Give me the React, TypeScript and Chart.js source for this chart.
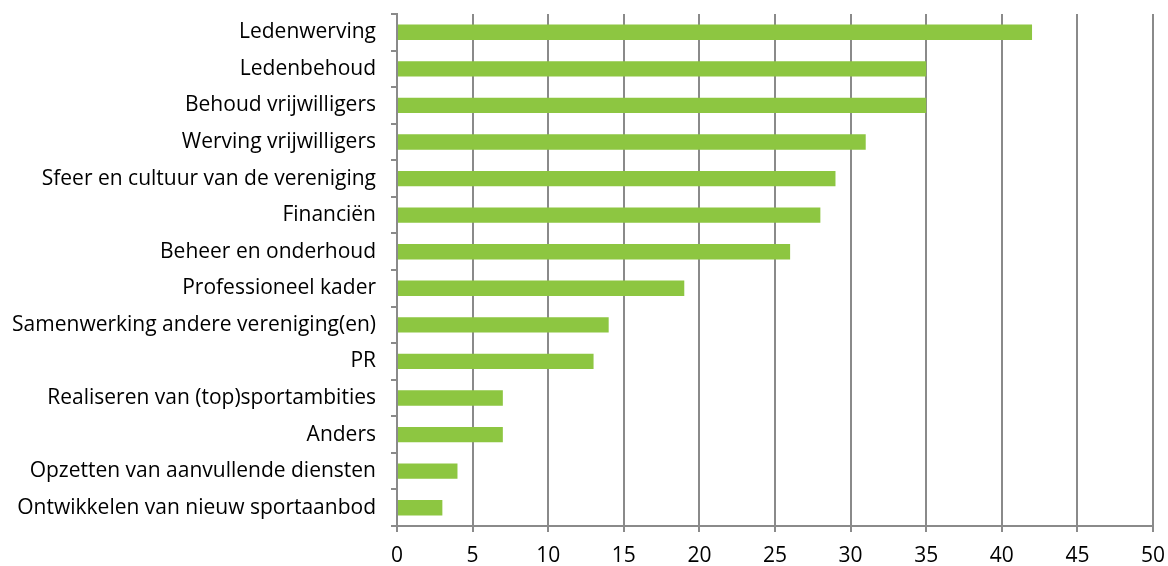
import React, { useEffect, useRef } from "react";
import { Chart, registerables } from "chart.js";

Chart.register(...registerables);

const categories = [
  "Ledenwerving",
  "Ledenbehoud",
  "Behoud vrijwilligers",
  "Werving vrijwilligers",
  "Sfeer en cultuur van de vereniging",
  "Financiën",
  "Beheer en onderhoud",
  "Professioneel kader",
  "Samenwerking andere vereniging(en)",
  "PR",
  "Realiseren van (top)sportambities",
  "Anders",
  "Opzetten van aanvullende diensten",
  "Ontwikkelen van nieuw sportaanbod",
];
const values = [42, 35, 35, 31, 29, 28, 26, 19, 14, 13, 7, 7, 4, 3];
const xMin = 0;
const xMax = 50;
const xStep = 5;

export default function App() {
  const ref = useRef<HTMLCanvasElement | null>(null);
  useEffect(() => {
    if (!ref.current) return;
    const font = { family: "'Open Sans', sans-serif", size: 21 };
    const chart = new Chart(ref.current, {
      type: "bar",
      data: {
        labels: categories,
        datasets: [
          {
            data: values,
            backgroundColor: "#8DC641",
            barPercentage: 0.42,
            categoryPercentage: 1,
          },
        ],
      },
      options: {
        indexAxis: "y",
        animation: false,
        responsive: false,
        maintainAspectRatio: false,
        layout: { padding: { top: 14, right: 15, left: 0, bottom: 0 } },
        plugins: { legend: { display: false }, tooltip: { enabled: false } },
        scales: {
          x: {
            min: xMin,
            max: xMax,
            ticks: { stepSize: xStep, color: "#000", font, padding: 11 },
            grid: { color: "#8a8a8a", lineWidth: 2, tickLength: 6, drawTicks: true },
            border: { color: "#8a8a8a", width: 2 },
            afterFit: (s: any) => {
              s.height = 40;
              s.paddingLeft = 0;
              s.paddingRight = 0;
            },
          },
          y: {
            ticks: { color: "#000", font, padding: 15, autoSkip: false },
            grid: { drawOnChartArea: false, color: "#8a8a8a", lineWidth: 2, tickLength: 6, offset: true },
            border: { color: "#8a8a8a", width: 2 },
            afterFit: (s: any) => {
              s.width = 397;
              s.paddingTop = 0;
              s.paddingBottom = 0;
            },
          },
        },
      },
    });
    return () => chart.destroy();
  }, []);
  return (
    <div style={{ position: "fixed", left: 0, top: 0, width: 1168, height: 566, background: "#fff" }}>
      <canvas ref={ref} width={1168} height={566} style={{ width: 1168, height: 566 }} />
    </div>
  );
}
